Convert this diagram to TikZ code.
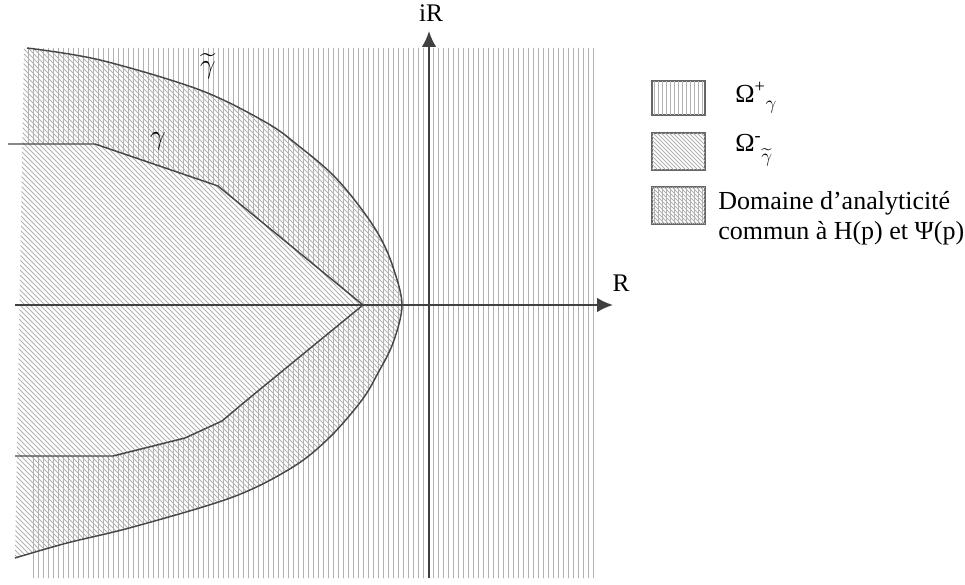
\documentclass[tikz,border=0pt]{standalone}
\usepackage{amsmath}
\usepackage{fontspec}
\setmainfont{Liberation Serif}
\usetikzlibrary{arrows.meta}
\begin{document}
\begin{tikzpicture}[x=0.75pt,y=-0.75pt,
  hatchline/.style={draw=black!30,line width=0.6pt},
  curveline/.style={draw=black!72,line width=1.1pt},
  axisline/.style={draw=black!75,line width=1.4pt,-{Latex[length=12pt,width=11pt]}},
  legbox/.style={draw=black!60,line width=0.8pt},
  legtext/.style={font=\fontsize{19.5}{22.5}\selectfont,anchor=west,inner sep=0pt,align=left},
  axlabel/.style={font=\fontsize{19}{21}\selectfont,inner sep=0pt}]
\useasboundingbox (0,0) rectangle (965,585);
% Omega^- (diagonal hatch) : left of gamma tilde
\begin{scope}
  \clip (24,48) -- plot[smooth,tension=0.55] coordinates {(27,48) (100,60) (200,90) (267,123) (300,147) (333,175) (360,207) (380,237) (393,267) (402,305) (393,343) (378,373) (362,400) (330,437) (293,467) (233,497) (133,527) (67,543) (15,558)} -- (15,558) -- cycle;
  \foreach \c in {-620,-615,...,620} \draw[hatchline] (\c,0) -- ++(620,620);
\end{scope}
% Omega^+ (vertical hatch) : right of gamma
\begin{scope}
  \clip (27,48) -- (598,48) -- (598,578) -- (31,578) -- (31,456) -- (113,456) -- (185,438) -- (222,421) -- (247,400) -- (363,305) -- (218,186) -- (95,144) -- (27,144) -- cycle;
  \foreach \x in {28,33,...,598} \draw[hatchline] (\x,40) -- (\x,590);
\end{scope}
% curves
\draw[curveline] plot[smooth,tension=0.55] coordinates {(27,48) (100,60) (200,90) (267,123) (300,147) (333,175) (360,207) (380,237) (393,267) (402,305) (393,343) (378,373) (362,400) (330,437) (293,467) (233,497) (133,527) (67,543) (15,558)};
\draw[curveline] (8,144) -- (95,144) -- (218,186) -- (363,305) -- (247,400) -- (222,421) -- (185,438) -- (113,456) -- (15,456);
% axes
\coordinate (xs) at (15,305); \coordinate (xe) at (613,305);
\coordinate (ys) at (429,578); \coordinate (ye) at (429,31);
\draw[axisline] (xs) -- (xe);
\draw[axisline] (ys) -- (ye);
\node[axlabel] (lab-iR) at (431,13) {iR};
\node[axlabel] (lab-R) at (621,283) {R};
\node[font=\fontsize{20}{22}\selectfont,inner sep=0pt] (lab-g) at (158,141) {$\gamma$};
\node[font=\fontsize{20}{22}\selectfont,inner sep=0pt] (lab-gt) at (208,66) {$\widetilde{\gamma}$};
% legend
\node[legbox,minimum width=53*0.75pt,minimum height=34*0.75pt,inner sep=0pt] (box1) at (678.5,98) {};
\node[legbox,minimum width=53*0.75pt,minimum height=37*0.75pt,inner sep=0pt] (box2) at (678.5,151.5) {};
\node[legbox,minimum width=53*0.75pt,minimum height=37*0.75pt,inner sep=0pt] (box3) at (678.5,205.5) {};
\begin{scope}
  \clip (box1.south west) rectangle (box1.north east);
  \foreach \x in {654,658,...,704} \draw[hatchline] (\x,75) -- (\x,120);
\end{scope}
\begin{scope}
  \clip (box2.south west) rectangle (box2.north east);
  \foreach \c in {600,604,...,720} \draw[hatchline] (\c,120) -- ++(60,60);
\end{scope}
\begin{scope}
  \clip (box3.south west) rectangle (box3.north east);
  \foreach \x in {654,658,...,704} \draw[hatchline] (\x,180) -- (\x,230);
  \foreach \c in {600,604,...,720} \draw[hatchline] (\c,175) -- ++(60,60);
\end{scope}
\draw[legbox] (box1.south west) rectangle (box1.north east);
\draw[legbox] (box2.south west) rectangle (box2.north east);
\draw[legbox] (box3.south west) rectangle (box3.north east);
\node[legtext] (t1) at (735,98) {Ω\textsuperscript{+}\raisebox{-5pt}{\fontsize{14}{15}\selectfont$\gamma$}};
\node[legtext] (t2) at (735,150) {Ω\textsuperscript{-}\raisebox{-8pt}{\fontsize{14}{15}\selectfont$\widetilde{\gamma}$}};
\node[legtext] (t3) at (718,218) {Domaine d’analyticité\\commun à H(p) et Ψ(p)};
\end{tikzpicture}
\end{document}
